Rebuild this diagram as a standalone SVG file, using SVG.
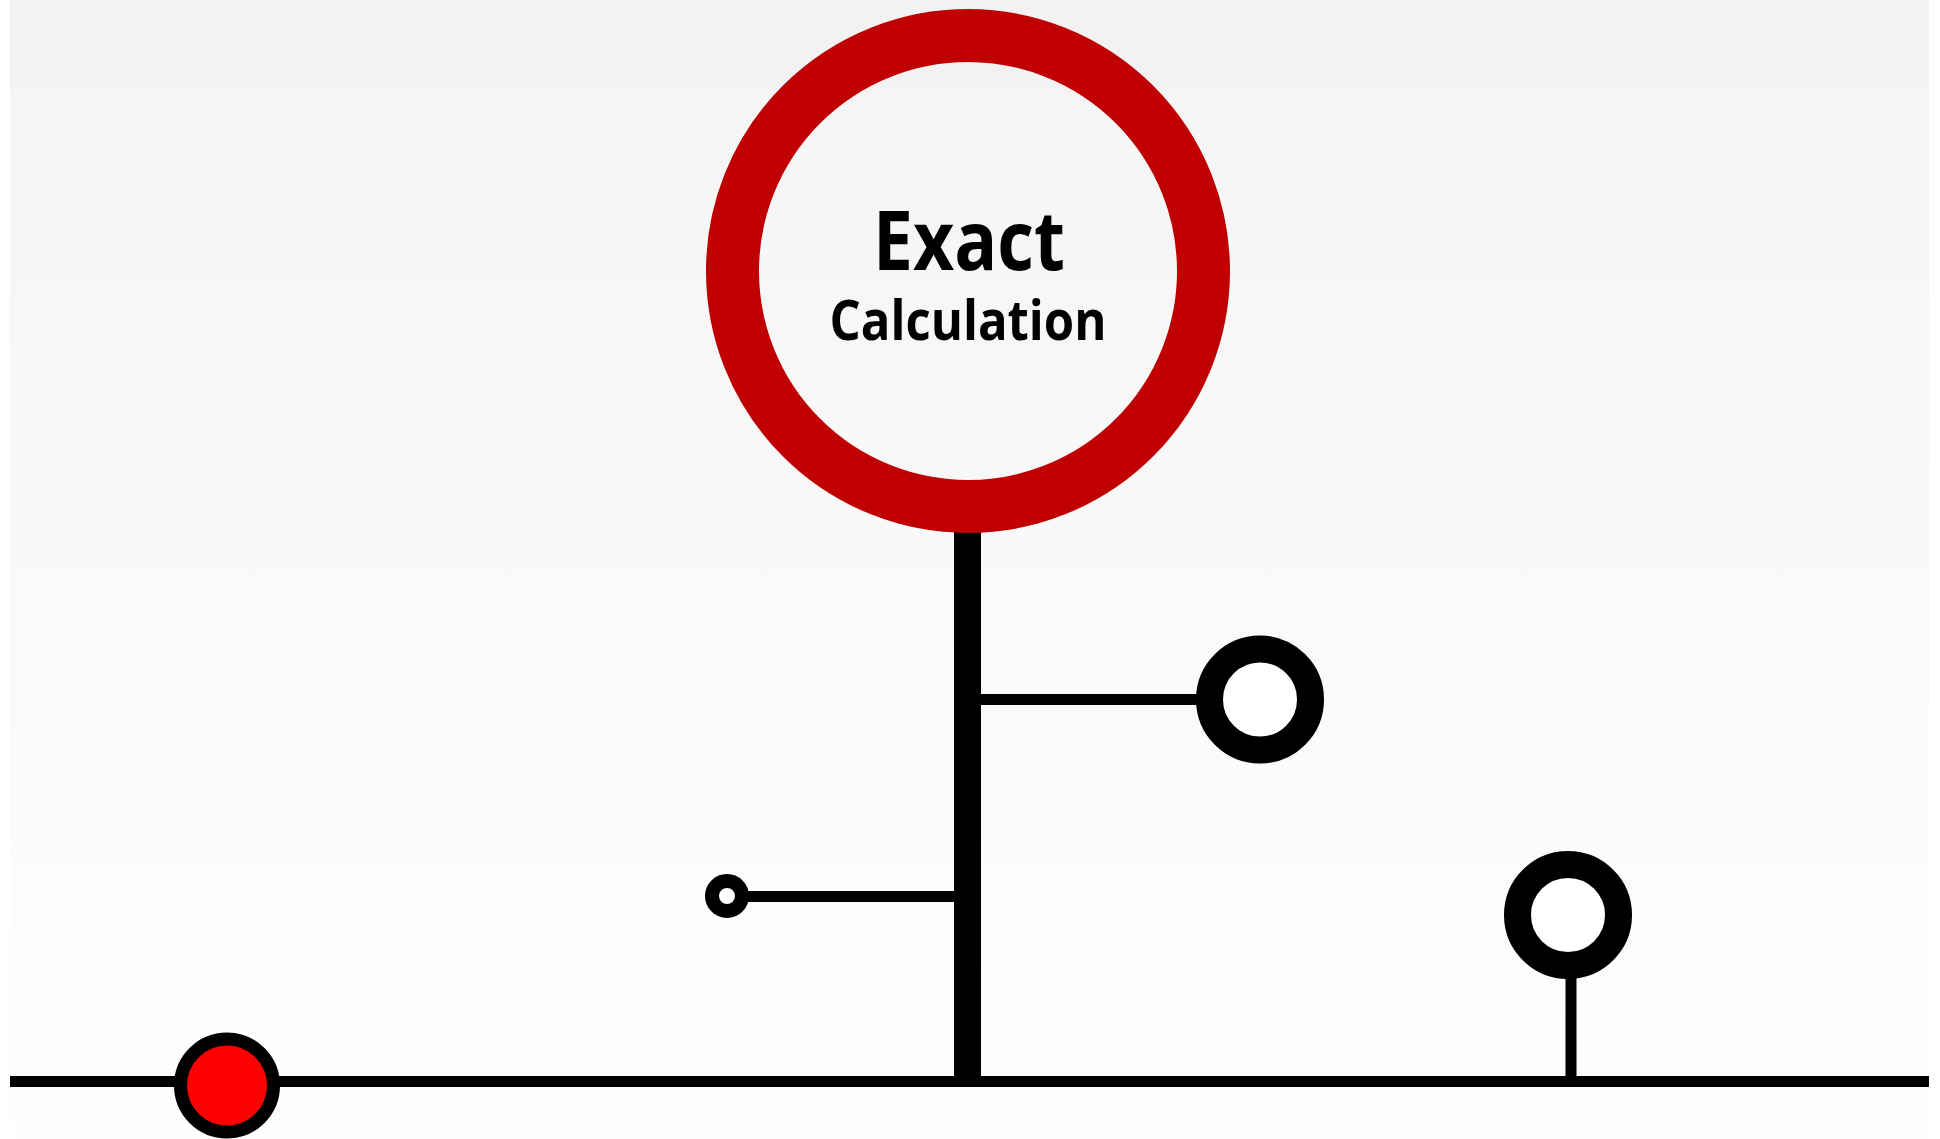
<svg xmlns="http://www.w3.org/2000/svg" width="1940" height="1139" viewBox="0 0 1940 1139">
  <defs>
    <linearGradient id="bg" x1="0" y1="0" x2="0" y2="1">
      <stop offset="0" stop-color="#f2f2f2"/>
      <stop offset="0.078" stop-color="#f2f2f2"/>
      <stop offset="0.08" stop-color="#f5f5f5"/>
      <stop offset="1" stop-color="#fefefe"/>
    </linearGradient>
    <style>
      .line { stroke: #000; stroke-width: 11; fill: none; }
      .ring { stroke: #000; stroke-width: 27; fill: #fff; }
      .title { font-family: "Open Sans", "Noto Sans", sans-serif; font-weight: bold; fill: #000; text-anchor: middle; }
    </style>
  </defs>
  <rect x="0" y="0" width="1940" height="1139" fill="#fff"/>
  <rect x="10" y="0" width="1919" height="1139" fill="url(#bg)"/>

  <g id="connectors">
    <line class="line" x1="10" y1="1081.5" x2="1929" y2="1081.5"/>
    <rect x="954" y="520" width="27" height="567" fill="#000"/>
    <line class="line" x1="981" y1="699.5" x2="1205" y2="699.5"/>
    <line class="line" x1="735" y1="896.5" x2="954" y2="896.5"/>
    <line class="line" x1="1571" y1="950" x2="1571" y2="1081"/>
  </g>

  <g id="node-exact">
    <circle cx="968" cy="271" r="235.5" fill="none" stroke="#c00000" stroke-width="53"/>
    <text class="title" x="969" y="270" font-size="82" textLength="192" lengthAdjust="spacingAndGlyphs">Exact</text>
    <text class="title" x="968" y="340" font-size="55" textLength="277" lengthAdjust="spacingAndGlyphs">Calculation</text>
  </g>

  <g id="node-right">
    <circle class="ring" cx="1260" cy="699.5" r="50.5"/>
  </g>

  <g id="node-left">
    <circle cx="727" cy="896" r="15" fill="#fff" stroke="#000" stroke-width="14"/>
  </g>

  <g id="node-far-right">
    <circle class="ring" cx="1568" cy="915" r="50.5"/>
  </g>

  <g id="node-red">
    <circle cx="227" cy="1085.5" r="46.5" fill="#ff0000" stroke="#000" stroke-width="13"/>
  </g>
</svg>
